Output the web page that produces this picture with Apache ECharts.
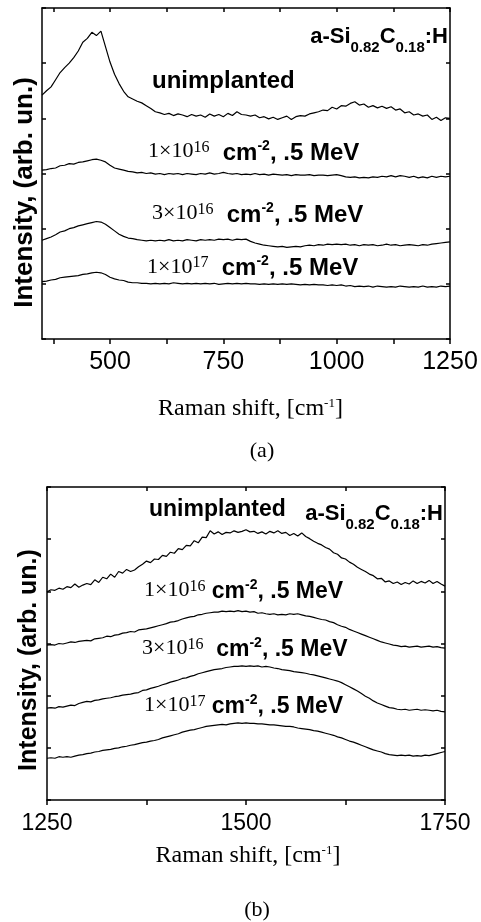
<!DOCTYPE html>
<html><head><meta charset="utf-8">
<script src="https://cdn.jsdelivr.net/npm/echarts@6/dist/echarts.min.js"></script>
<style>html,body{margin:0;padding:0;background:#fff}#c{width:481px;height:922px}</style>
</head><body><div id="c"></div>
<script>
// ---------- Panel (a): 350-1250 cm^-1 ----------
const waveA = [350,360,370,380,390,400,410,420,430,440,450,460,470,480,490,500,510,520,530,540,550,560,570,580,590,600,610,620,630,640,650,660,670,680,690,700,710,720,730,740,750,760,770,780,790,800,810,820,830,840,850,860,870,880,890,900,910,920,930,940,950,960,970,980,990,1000,1010,1020,1030,1040,1050,1060,1070,1080,1090,1100,1110,1120,1130,1140,1150,1160,1170,1180,1190,1200,1210,1220,1230,1240,1250];
const unimplantedA = [4.42,4.50,4.57,4.70,4.83,4.92,5.00,5.10,5.22,5.38,
5.45,5.56,5.50,5.58,5.30,5.02,4.80,4.63,4.49,4.39,
4.35,4.31,4.28,4.23,4.18,4.12,4.10,4.07,4.09,4.05,
4.08,4.06,4.03,4.07,4.04,4.06,4.02,4.08,4.04,4.07,
4.03,4.09,4.05,4.12,4.07,4.06,4.04,4.06,4.01,4.03,
3.99,4.02,3.98,4.01,4.04,3.98,4.03,4.05,4.04,4.08,
4.10,4.12,4.15,4.14,4.20,4.17,4.23,4.22,4.27,4.30,
4.24,4.26,4.20,4.23,4.19,4.22,4.18,4.21,4.15,4.17,
4.10,4.12,4.06,4.08,4.04,4.06,3.98,4.02,3.96,4.01,
4.00];
const dose1e16A = [3.06,3.07,3.09,3.10,3.14,3.15,3.18,3.17,3.20,3.21,
3.23,3.25,3.26,3.24,3.21,3.15,3.10,3.08,3.06,3.04,
3.03,3.01,3.02,3.00,3.01,2.99,3.00,2.98,3.00,2.99,
3.00,2.98,3.00,2.99,2.98,3.00,2.99,3.01,2.99,3.00,
3.02,3.00,2.99,3.00,2.98,2.99,2.98,3.00,2.98,2.99,
2.97,2.99,2.98,2.97,2.98,2.96,2.98,2.97,2.97,2.98,
2.96,2.97,2.97,2.96,2.97,2.98,2.96,2.94,2.93,2.94,
2.92,2.93,2.92,2.94,2.93,2.95,2.94,2.96,2.94,2.96,
2.95,2.93,2.95,2.92,2.94,2.92,2.95,2.93,2.95,2.94,
2.95];
const dose3e16A = [1.79,1.82,1.85,1.89,1.94,1.96,2.00,2.02,2.05,2.07,
2.09,2.11,2.13,2.12,2.08,2.02,1.96,1.90,1.86,1.83,
1.82,1.80,1.79,1.78,1.79,1.78,1.79,1.78,1.80,1.78,
1.79,1.78,1.80,1.79,1.78,1.80,1.79,1.80,1.79,1.81,
1.80,1.81,1.79,1.81,1.80,1.81,1.77,1.74,1.72,1.70,
1.69,1.68,1.67,1.68,1.66,1.67,1.68,1.67,1.69,1.70,
1.69,1.71,1.70,1.72,1.71,1.72,1.71,1.72,1.70,1.71,
1.69,1.71,1.70,1.71,1.69,1.70,1.72,1.70,1.71,1.69,
1.70,1.71,1.70,1.69,1.71,1.70,1.72,1.73,1.74,1.75,
1.76];
const dose1e17A = [1.04,1.05,1.07,1.08,1.11,1.12,1.13,1.14,1.15,1.17,
1.18,1.20,1.21,1.20,1.17,1.12,1.09,1.07,1.06,1.03,
1.02,1.02,1.01,1.01,1.00,1.01,1.00,1.01,1.00,1.02,
1.01,1.00,1.01,1.00,1.01,1.00,1.01,1.00,1.01,0.99,
1.00,1.01,1.00,1.01,1.00,1.01,1.00,1.00,0.99,1.00,
0.99,1.00,0.99,1.00,0.99,1.00,0.99,0.98,0.99,0.98,
0.99,0.98,0.98,0.97,0.98,0.97,0.98,0.96,0.97,0.95,
0.96,0.95,0.96,0.94,0.96,0.95,0.94,0.95,0.94,0.96,
0.95,0.94,0.95,0.94,0.96,0.94,0.95,0.94,0.96,0.95,
0.96];
const tickMarksA = [375,500,625,750,875,1000,1125,1250];
const tickLabelsA = [500,750,1000,1250];

// ---------- Panel (b): 1250-1750 cm^-1 ----------
const waveB = [1250,1255,1260,1265,1270,1275,1280,1285,1290,1295,1300,1305,1310,1315,1320,1325,1330,1335,1340,1345,1350,1355,1360,1365,1370,1375,1380,1385,1390,1395,1400,1405,1410,1415,1420,1425,1430,1435,1440,1445,1450,1455,1460,1465,1470,1475,1480,1485,1490,1495,1500,1505,1510,1515,1520,1525,1530,1535,1540,1545,1550,1555,1560,1565,1570,1575,1580,1585,1590,1595,1600,1605,1610,1615,1620,1625,1630,1635,1640,1645,1650,1655,1660,1665,1670,1675,1680,1685,1690,1695,1700,1705,1710,1715,1720,1725,1730,1735,1740,1745,1750];
const unimplantedB = [3.99,4.03,4.02,4.06,4.04,4.09,4.07,4.14,4.08,4.12,
4.15,4.13,4.22,4.17,4.27,4.24,4.33,4.27,4.38,4.35,
4.42,4.38,4.41,4.47,4.52,4.58,4.55,4.62,4.61,4.69,
4.67,4.75,4.73,4.82,4.80,4.88,4.87,4.97,4.93,5.04,
5.03,5.16,5.10,5.14,5.09,5.13,5.12,5.16,5.13,5.15,
5.18,5.14,5.15,5.11,5.14,5.10,5.15,5.12,5.16,5.11,
5.13,5.07,5.11,5.06,5.12,5.05,5.01,4.96,4.92,4.89,
4.84,4.81,4.74,4.71,4.64,4.62,4.56,4.52,4.46,4.42,
4.38,4.33,4.30,4.24,4.25,4.18,4.20,4.15,4.18,4.13,
4.17,4.14,4.20,4.15,4.19,4.16,4.21,4.15,4.19,4.14,
4.10];
const dose1e16B = [2.97,2.98,2.97,3.00,2.99,3.01,3.03,3.02,3.04,3.05,
3.06,3.05,3.09,3.10,3.11,3.14,3.13,3.16,3.17,3.20,
3.21,3.23,3.22,3.26,3.27,3.28,3.30,3.32,3.34,3.36,
3.38,3.41,3.42,3.44,3.47,3.49,3.51,3.52,3.55,3.56,
3.58,3.59,3.60,3.60,3.62,3.61,3.62,3.61,3.63,3.61,
3.62,3.60,3.61,3.58,3.59,3.57,3.56,3.57,3.55,3.56,
3.55,3.57,3.56,3.57,3.55,3.53,3.52,3.50,3.48,3.46,
3.45,3.42,3.40,3.36,3.33,3.31,3.27,3.24,3.21,3.18,
3.15,3.12,3.09,3.06,3.03,3.01,2.99,2.97,2.96,2.94,
2.95,2.93,2.94,2.95,2.93,2.94,2.95,2.93,2.94,2.92,
2.91];
const dose3e16B = [1.76,1.77,1.76,1.79,1.78,1.80,1.82,1.81,1.85,1.87,
1.89,1.88,1.91,1.92,1.94,1.95,1.96,1.98,1.99,2.01,
2.02,2.03,2.05,2.06,2.10,2.11,2.14,2.16,2.18,2.21,
2.23,2.26,2.28,2.30,2.33,2.34,2.37,2.39,2.42,2.44,
2.46,2.48,2.50,2.51,2.52,2.54,2.55,2.56,2.56,2.57,
2.56,2.57,2.56,2.57,2.55,2.56,2.55,2.53,2.52,2.50,
2.49,2.48,2.46,2.45,2.44,2.43,2.41,2.40,2.38,2.36,
2.34,2.32,2.30,2.28,2.25,2.21,2.17,2.13,2.09,2.04,
1.99,1.95,1.90,1.86,1.83,1.80,1.77,1.76,1.74,1.73,
1.74,1.72,1.73,1.74,1.72,1.73,1.72,1.71,1.72,1.70,
1.69];
const dose1e17B = [0.80,0.81,0.80,0.83,0.82,0.83,0.82,0.84,0.86,0.87,
0.89,0.90,0.92,0.93,0.95,0.96,0.97,0.99,1.00,1.02,
1.03,1.05,1.06,1.08,1.10,1.11,1.13,1.14,1.16,1.19,
1.21,1.23,1.25,1.27,1.30,1.32,1.34,1.35,1.37,1.39,
1.41,1.42,1.43,1.44,1.45,1.44,1.46,1.47,1.48,1.47,
1.48,1.47,1.47,1.46,1.46,1.45,1.44,1.44,1.43,1.42,
1.41,1.41,1.40,1.38,1.37,1.36,1.35,1.33,1.32,1.30,
1.28,1.26,1.24,1.21,1.19,1.16,1.13,1.11,1.08,1.05,
1.02,0.99,0.96,0.94,0.92,0.89,0.87,0.86,0.85,0.86,
0.85,0.86,0.84,0.85,0.84,0.86,0.85,0.87,0.89,0.91,
0.93];
const tickMarksB = [1250,1375,1500,1625,1750];
const tickLabelsB = [1250,1500,1750];

// ---------- rendering ----------
const SANS = '"Liberation Sans", Arial, sans-serif';
const SERIF = '"Liberation Serif", "Times New Roman", serif';
const BLACK = '#000';
const pairs = (xs, ys) => xs.map((x, i) => [x, ys[i]]);
const lineSt = { color: BLACK, width: 1.5 };

function xAxes(g, min, max, ticks, labels, fs, margin) {
  return [
    { gridIndex: g, type: 'value', position: 'bottom', min, max,
      axisLine: { show: true, onZero: false, lineStyle: lineSt },
      axisTick: { show: true, customValues: ticks, inside: false, length: 5, lineStyle: lineSt },
      axisLabel: { show: true, customValues: labels, formatter: v => String(v), color: BLACK, fontFamily: SANS, fontSize: fs, margin },
      splitLine: { show: false } },
    { gridIndex: g, type: 'value', position: 'top', min, max,
      axisLine: { show: true, onZero: false, lineStyle: lineSt },
      axisTick: { show: true, customValues: ticks, inside: true, length: 4, lineStyle: lineSt },
      axisLabel: { show: false }, splitLine: { show: false } }
  ];
}
function yAxes(g) {
  const base = { gridIndex: g, type: 'value', min: 0, max: 6, interval: 1,
    axisLine: { show: true, onZero: false, lineStyle: lineSt },
    axisTick: { show: true, inside: true, length: 4, lineStyle: lineSt },
    axisLabel: { show: false }, splitLine: { show: false } };
  return [Object.assign({ position: 'left' }, base), Object.assign({ position: 'right' }, base)];
}
function line(xi, yi, xs, ys) {
  return { type: 'line', xAxisIndex: xi, yAxisIndex: yi, data: pairs(xs, ys),
    showSymbol: false, symbol: 'none', lineStyle: { color: BLACK, width: 1.2 }, silent: true };
}

function txt(x, y, text, rich, align, extra) {
  return Object.assign({ type: 'text', x, y, silent: true,
    style: { text, rich, fill: BLACK, align: align, textAlign: align, verticalAlign: 'middle', textVerticalAlign: 'middle' } }, extra || {});
}
function richDose(bold) {
  return {
    n: { fontFamily: SERIF, fontSize: 22, fill: BLACK, verticalAlign: 'middle', padding: [0, 0, 3, 0] },
    ns: { fontFamily: SERIF, fontSize: 16, fill: BLACK, verticalAlign: 'middle', padding: [0, 0, 11, 0] },
    b: { fontFamily: SANS, fontWeight: 'bold', fontSize: bold, fill: BLACK, verticalAlign: 'middle' },
    bs: { fontFamily: SANS, fontWeight: 'bold', fontSize: 14, fill: BLACK, verticalAlign: 'middle', padding: [0, 0, 14, 0] }
  };
}
const richFormula = {
  m: { fontFamily: SANS, fontWeight: 'bold', fontSize: 22, fill: BLACK, verticalAlign: 'middle' },
  s: { fontFamily: SANS, fontWeight: 'bold', fontSize: 15, fill: BLACK, verticalAlign: 'middle', padding: [21, 0, 0, 0] }
};
const richUn = { u: { fontFamily: SANS, fontWeight: 'bold', fontSize: 24, fill: BLACK, verticalAlign: 'middle' } };
const richUnB = { u: { fontFamily: SANS, fontWeight: 'bold', fontSize: 23, fill: BLACK, verticalAlign: 'middle' } };
const richYA = { y: { fontFamily: SANS, fontWeight: 'bold', fontSize: 26, fill: BLACK, verticalAlign: 'middle' } };
const richYB = { y: { fontFamily: SANS, fontWeight: 'bold', fontSize: 25, fill: BLACK, verticalAlign: 'middle' } };
const richTitle = {
  t: { fontFamily: SERIF, fontSize: 24, fill: BLACK, verticalAlign: 'middle' },
  p: { fontFamily: SERIF, fontSize: 13, fill: BLACK, verticalAlign: 'middle', padding: [0, 0, 10, 0] }
};
const richCap = { t: { fontFamily: SERIF, fontSize: 22, fill: BLACK, verticalAlign: 'middle' } };
const formula = '{m|a-Si}{s|0.82}{m|C}{s|0.18}{m|:H}';
const xTitle = '{t|Raman shift, [cm}{p|-1}{t|]}';
const yTitle = '{y|Intensity, (arb. un.)}';

const chart = echarts.init(document.getElementById('c'), null, { renderer: 'canvas' });
chart.setOption({
  animation: false,
  backgroundColor: '#fff',
  grid: [
    { left: 42, top: 8, width: 408, height: 331 },
    { left: 47, top: 487, width: 398, height: 313 }
  ],
  xAxis: xAxes(0, 350, 1250, tickMarksA, tickLabelsA, 25, 11).concat(xAxes(1, 1250, 1750, tickMarksB, tickLabelsB, 23, 12)),
  yAxis: yAxes(0).concat(yAxes(1)),
  series: [
    line(0, 0, waveA, unimplantedA),
    line(0, 0, waveA, dose1e16A),
    line(0, 0, waveA, dose3e16A),
    line(0, 0, waveA, dose1e17A),
    line(2, 2, waveB, unimplantedB),
    line(2, 2, waveB, dose1e16B),
    line(2, 2, waveB, dose3e16B),
    line(2, 2, waveB, dose1e17B)
  ],
  graphic: [
    // panel (a)
    txt(448, 37.4, formula, richFormula, 'right'),
    txt(152, 81, '{u|unimplanted}', richUn, 'left'),
    txt(148, 153, '{n|1×10}{ns|16}{b|  cm}{bs|-2}{b|, .5 MeV}', richDose(24), 'left'),
    txt(152, 215, '{n|3×10}{ns|16}{b|  cm}{bs|-2}{b|, .5 MeV}', richDose(24), 'left'),
    txt(147, 268.5, '{n|1×10}{ns|17}{b|  cm}{bs|-2}{b|, .5 MeV}', richDose(24), 'left'),
    txt(250.5, 409, xTitle, richTitle, 'center'),
    txt(24.7, 192.5, yTitle, richYA, 'center', { rotation: Math.PI / 2 }),
    txt(262, 451, '{t|(a)}', richCap, 'center'),
    // panel (b)
    txt(443, 514, formula, richFormula, 'right'),
    txt(149, 510, '{u|unimplanted}', richUnB, 'left'),
    txt(144, 592, '{n|1×10}{ns|16}{b| cm}{bs|-2}{b|, .5 MeV}', richDose(23), 'left'),
    txt(142, 650, '{n|3×10}{ns|16}{b|  cm}{bs|-2}{b|, .5 MeV}', richDose(23), 'left'),
    txt(144, 707, '{n|1×10}{ns|17}{b| cm}{bs|-2}{b|, .5 MeV}', richDose(23), 'left'),
    txt(248, 856, xTitle, richTitle, 'center'),
    txt(29.5, 660, yTitle, richYB, 'center', { rotation: Math.PI / 2 }),
    txt(257, 910, '{t|(b)}', richCap, 'center')
  ]
});
</script>
</body></html>
